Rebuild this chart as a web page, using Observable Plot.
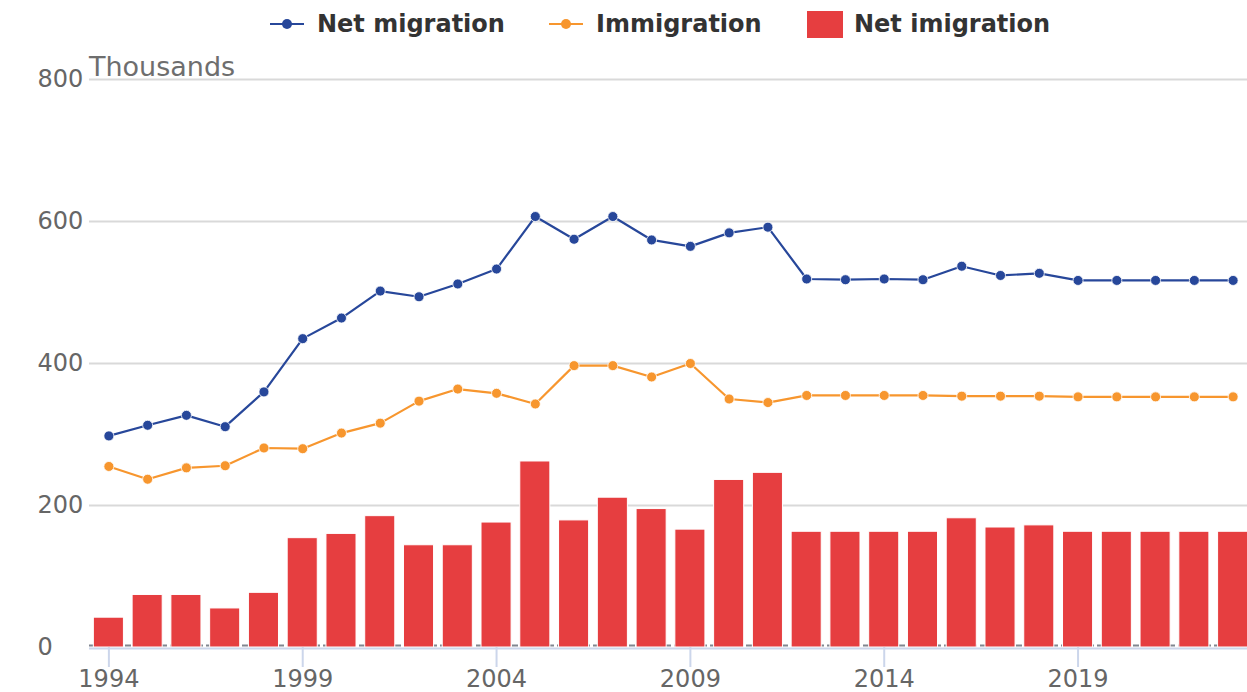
<!DOCTYPE html>
<html>
<head>
<meta charset="utf-8">
<script src="https://cdn.jsdelivr.net/npm/d3@7"></script>
<script src="https://cdn.jsdelivr.net/npm/@observablehq/plot@0.6"></script>
<style>
  html, body { margin: 0; padding: 0; background: #fff; overflow: hidden; }
  body { font-family: "DejaVu Sans", sans-serif; }
  #wrap { position: relative; width: 1247px; height: 692px; }
  .leg { position: absolute; top: 0; height: 48px; display: flex; align-items: center; font-size: 24px; font-weight: bold; color: #333; white-space: nowrap; }
  .leg svg { margin-right: 13px; }
  #ytitle { position: absolute; left: 89px; top: 54px; font-size: 27px; line-height: 26px; color: #6e6e6e; }
  #chart { position: absolute; left: 0; top: 50px; }
</style>
</head>
<body>
<div id="wrap">
  <div class="leg" style="left:270px"><svg width="34" height="12"><line x1="0" y1="6" x2="34" y2="6" stroke="#27479a" stroke-width="2"/><circle cx="17" cy="6" r="5" fill="#27479a"/></svg>Net migration</div>
  <div class="leg" style="left:549px"><svg width="34" height="12"><line x1="0" y1="6" x2="34" y2="6" stroke="#f7962e" stroke-width="2"/><circle cx="17" cy="6" r="5" fill="#f7962e"/></svg>Immigration</div>
  <div class="leg" style="left:807px"><svg width="36" height="27" style="margin-right:11px"><rect x="0" y="0" width="36" height="27" fill="#e63e40"/></svg>Net imigration</div>
  <div id="ytitle">Thousands</div>
  <div id="chart"></div>
</div>
<script>
const years = [1994,1995,1996,1997,1998,1999,2000,2001,2002,2003,2004,2005,2006,2007,2008,2009,2010,2011,2012,2013,2014,2015,2016,2017,2018,2019,2020,2021,2022,2023];
const netMigration = [298,313,327,311,360,435,464,502,494,512,533,607,575,607,574,565,584,592,519,518,519,518,537,524,527,517,517,517,517,517];
const immigration = [255,237,253,256,281,280,302,316,347,364,358,343,397,397,381,400,350,345,355,355,355,355,354,354,354,353,353,353,353,353];
const netImigration = [42,74,74,55,77,154,160,185,144,144,176,262,179,211,195,166,236,246,163,163,163,163,182,169,172,163,163,163,163,163];
const yTicks = [0,200,400,600,800];
const xTicks = [1994,1999,2004,2009,2014,2019];

const rows = years.map((year, i) => ({year, net: netMigration[i], imm: immigration[i], bar: netImigration[i]}));

const chart = Plot.plot({
  width: 1247,
  height: 642,
  marginTop: 29,
  marginBottom: 45,
  marginLeft: 89,
  marginRight: 0,
  style: {fontFamily: "DejaVu Sans, sans-serif", overflow: "visible"},
  x: {type: "band", domain: years, range: [89, 1252], paddingInner: 0.25, paddingOuter: 0.125, round: false},
  y: {domain: [0, 800]},
  marks: [
    Plot.ruleY(yTicks.filter(d => d > 0), {stroke: "#d9d9d9", strokeWidth: 2}),
    Plot.ruleY([0], {stroke: "#80868f", strokeWidth: 2, strokeDasharray: "6,3", dy: -2}),
    Plot.barY(rows, {x: "year", y: "bar", fill: "#e63e40", stroke: "#fff", strokeWidth: 1, insetLeft: -0.5, insetRight: -0.5}),
    Plot.ruleY([0], {stroke: "#ccd6eb", strokeWidth: 2, dy: 1}),
    Plot.lineY(rows, {x: "year", y: "imm", stroke: "#f7962e", strokeWidth: 2.2}),
    Plot.dot(rows, {x: "year", y: "imm", r: 5, fill: "#f7962e", stroke: "#fff", strokeWidth: 0.8}),
    Plot.lineY(rows, {x: "year", y: "net", stroke: "#27479a", strokeWidth: 2.2}),
    Plot.dot(rows, {x: "year", y: "net", r: 5, fill: "#27479a", stroke: "#fff", strokeWidth: 0.8}),
    Plot.axisX({ticks: xTicks, tickSize: 20, tickPadding: 2, stroke: "#ccd6eb", strokeWidth: 2, fill: "#666", fontSize: 24, label: null, tickFormat: d => String(d)}),
    Plot.axisY({ticks: yTicks, tickSize: 0, tickPadding: 0, textAnchor: "start", dx: -52, fill: "#666", fontSize: 24, label: null})
  ]
});
document.getElementById("chart").appendChild(chart);
</script>
</body>
</html>
